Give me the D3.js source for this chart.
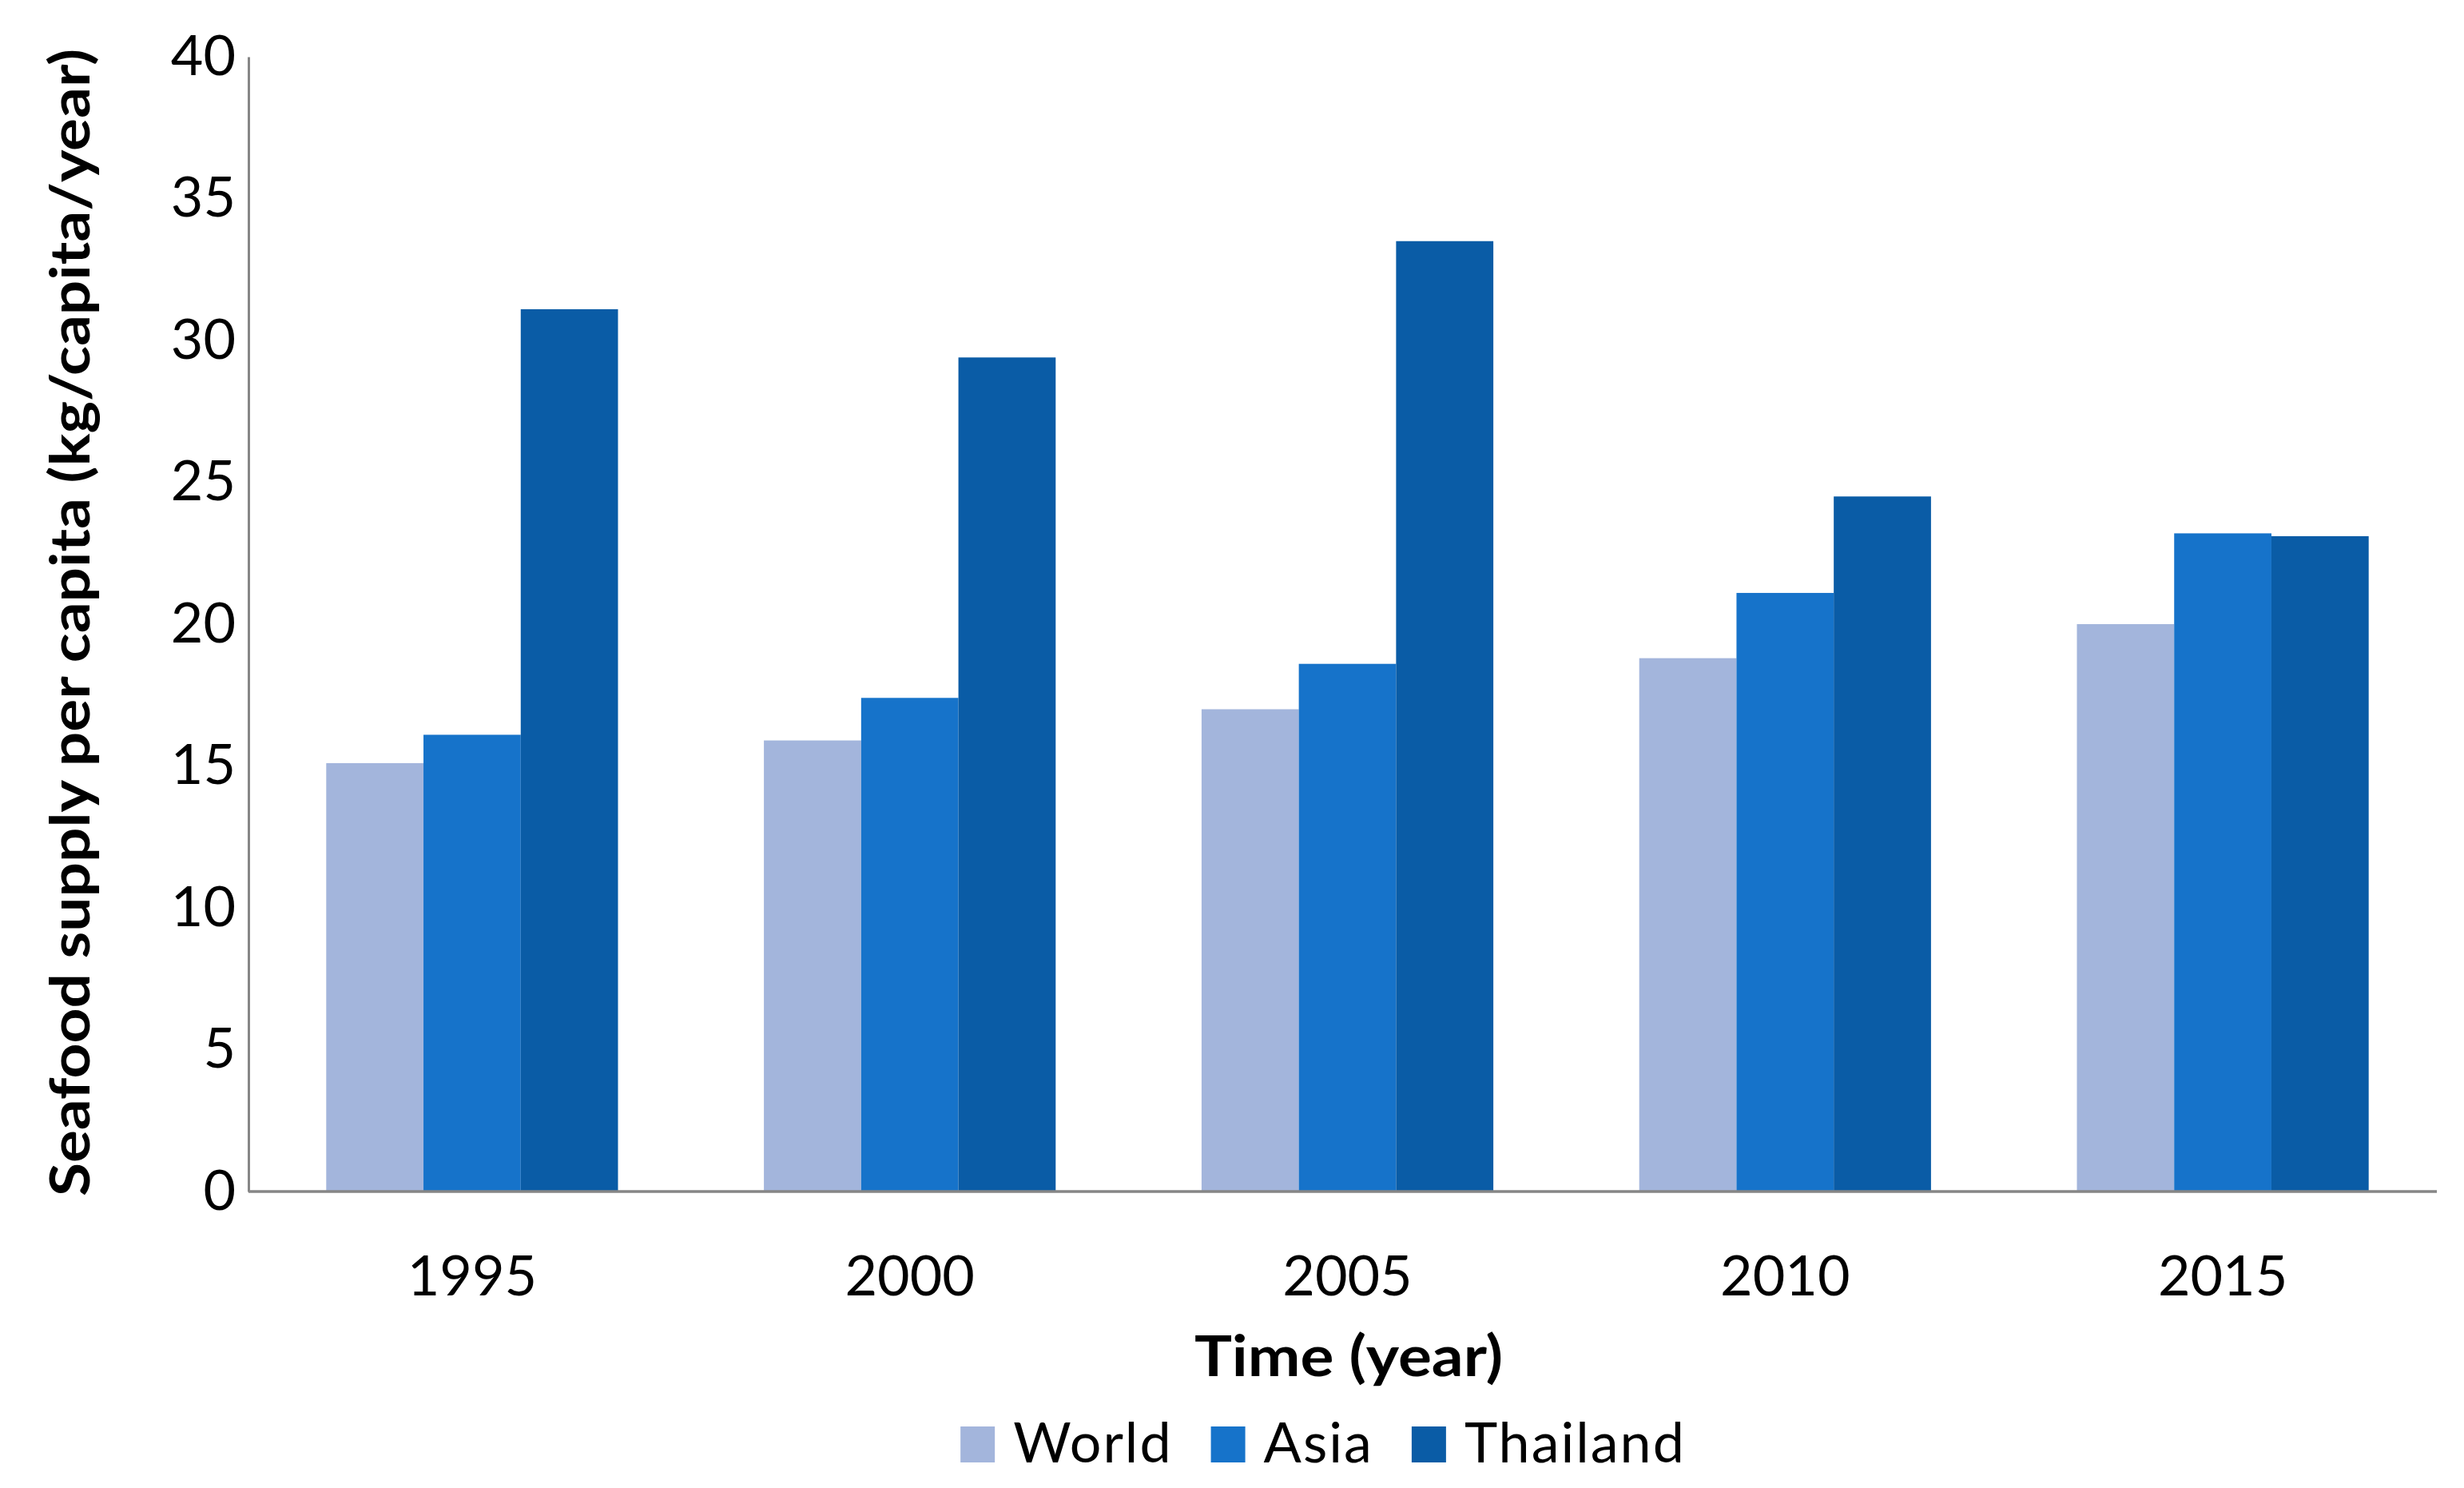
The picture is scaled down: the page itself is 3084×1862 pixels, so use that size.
<!DOCTYPE html>
<html>
<head>
<meta charset="utf-8">
<script src="https://cdn.jsdelivr.net/npm/d3@7"></script>
<style>
  html, body { margin: 0; padding: 0; background: #ffffff; }
  svg { display: block; }
  text { font-family: Lato, "Open Sans", sans-serif; fill: #000; }
</style>
</head>
<body>
<svg id="chart" width="3084" height="1862"></svg>
<script>
// ---- data ----
const years = ["1995", "2000", "2005", "2010", "2015"];
const seriesNames = ["World", "Asia", "Thailand"];
const worldValues = [15.1, 15.9, 17.0, 18.8, 20.0];
const asiaValues = [16.1, 17.4, 18.6, 21.1, 23.2];
const thailandValues = [31.1, 29.4, 33.5, 24.5, 23.1];
const yTicks = [0, 5, 10, 15, 20, 25, 30, 35, 40];
const seriesColors = ["#A3B5DC", "#1673CA", "#0A5CA6"];

const seriesValues = [worldValues, asiaValues, thailandValues];
const table = years.map((y, i) => ({
  year: y,
  values: seriesNames.map((s, j) => ({ series: s, value: seriesValues[j][i] }))
}));

// ---- layout ----
const svg = d3.select("#chart");
const plot = { left: 311, right: 3050, top: 71, bottom: 1491 };
const bandShift = 6;

const x = d3.scaleBand()
  .domain(years)
  .range([plot.left + bandShift, plot.right + bandShift])
  .paddingInner(1.5 / 4.5)
  .paddingOuter(0.75 / 4.5);

const xInner = d3.scaleBand()
  .domain(seriesNames)
  .range([0, x.bandwidth()])
  .padding(0);

const y = d3.scaleLinear().domain([0, 40]).range([plot.bottom, plot.top]);
const color = d3.scaleOrdinal().domain(seriesNames).range(seriesColors);

// ---- bars ----
svg.append("g")
  .selectAll("g")
  .data(table)
  .join("g")
  .attr("transform", d => `translate(${x(d.year)},0)`)
  .selectAll("rect")
  .data(d => d.values)
  .join("rect")
  .attr("x", d => xInner(d.series))
  .attr("width", xInner.bandwidth())
  .attr("y", d => y(d.value))
  .attr("height", d => y(0) - y(d.value))
  .attr("fill", d => color(d.series));

// ---- y axis ----
const yAxis = svg.append("g")
  .attr("transform", `translate(${plot.left},0)`)
  .call(d3.axisLeft(y).tickValues(yTicks).tickSize(0).tickPadding(16).tickFormat(d3.format("d")));
yAxis.select(".domain").attr("stroke", "#868686").attr("stroke-width", 3);
yAxis.selectAll("text")
  .style("font-family", "Lato, sans-serif")
  .style("font-size", "70px")
  .attr("fill", "#000");

// ---- x axis ----
const xAxis = svg.append("g")
  .attr("transform", `translate(0,${plot.bottom})`)
  .call(d3.axisBottom(x).tickSize(0).tickPadding(80));
xAxis.select(".domain")
  .attr("d", `M${plot.left},0H${plot.right}`)
  .attr("stroke", "#868686").attr("stroke-width", 3.5);
xAxis.selectAll("text")
  .style("font-family", "Lato, sans-serif")
  .style("font-size", "70px")
  .attr("fill", "#000");

// ---- axis titles ----
svg.append("text")
  .attr("x", 1688)
  .attr("y", 1722)
  .attr("text-anchor", "middle")
  .style("font-size", "70px")
  .style("font-weight", "bold")
  .attr("textLength", 386)
  .attr("lengthAdjust", "spacingAndGlyphs")
  .text("Time (year)");

svg.append("text")
  .attr("transform", `translate(112,779) rotate(-90)`)
  .attr("text-anchor", "middle")
  .style("font-size", "68px")
  .style("font-weight", "bold")
  .attr("textLength", 1436)
  .attr("lengthAdjust", "spacingAndGlyphs")
  .text("Seafood supply per capita (kg/capita/year)");

// ---- legend ----
const legend = svg.append("g");
const swatch = 43, swatchGap = 23, itemGap = 48, legendBaseline = 1830;
const items = legend.selectAll("g").data(seriesNames).join("g");
items.append("rect")
  .attr("width", swatch)
  .attr("height", 45)
  .attr("y", legendBaseline - 45)
  .attr("fill", d => color(d));
items.append("text")
  .attr("x", swatch + swatchGap)
  .attr("y", legendBaseline)
  .style("font-size", "70px")
  .style("letter-spacing", "2px")
  .text(d => d);
let cursor = 0;
items.each(function () {
  const g = d3.select(this);
  g.attr("transform", `translate(${cursor},0)`);
  const w = swatch + swatchGap + g.select("text").node().getComputedTextLength();
  cursor += w + itemGap;
});
const legendWidth = cursor - itemGap;
legend.attr("transform", `translate(${1656 - legendWidth / 2},0)`);
</script>
</body>
</html>
